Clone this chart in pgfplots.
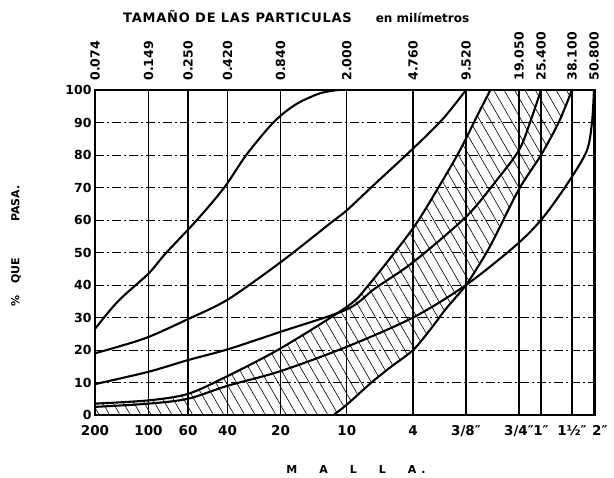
\documentclass[border=0pt]{standalone}
\usepackage{fontspec}
\setmainfont{DejaVu Sans}
\usepackage{pgfplots}
\pgfplotsset{compat=1.18}
\usepgfplotslibrary{fillbetween}
\usetikzlibrary{patterns.meta}
\begin{document}
\begin{tikzpicture}
\begin{axis}[name=ax,
  scale only axis, width=500pt, height=325pt,
  xmode=log, xmin=0.074, xmax=51.5, ymin=0, ymax=100,
  xtick={0.074,0.149,0.25,0.42,0.84,2,4.76,9.52,19.05,25.4,38.1,50.8},
  minor xtick={}, major tick length=0pt,
  xticklabels={200,100,60,40,20,10,4,3/8″,3/4″\hspace{3pt},1″,1½″,\hspace{12pt}2″},
  xticklabel style={font=\bfseries\fontsize{13.5}{14}\selectfont, yshift=-7pt},
  ytick={0,10,...,100},
  yticklabel style={font=\bfseries\fontsize{12.5}{13}\selectfont},
  /pgf/number format/assume math mode=true,
  xmajorgrids, ymajorgrids,
  x grid style={black, line width=1.3pt},
  y grid style={black, line width=0.7pt, dash pattern=on 9pt off 3pt on 2pt off 3pt},
  axis line style={line width=1.8pt},
  clip mode=individual,
]
% hatched band
\addplot[draw=none, name path=zero, forget plot] coordinates {(0.074,0) (1.68,0)};
\addplot[draw=none, name path=top, forget plot] coordinates {(13.1,100) (38.1,100)};
% band upper limit D
\addplot[black, line width=2.1pt, smooth, name path=D] coordinates {
 (0.074,3.5) (0.149,4.5) (0.25,6.5) (0.42,12) (0.84,20.5) (2.0,33.3) (2.66,40)
 (4.76,57.5) (6.8,71) (8.8,81.5) (11,92) (13.1,100)};
% band lower limit L+F
\addplot[black, line width=2.1pt, smooth, name path=LF] coordinates {
 (1.68,0) (2.0,3.2) (2.72,9.7) (3.5,14.5) (4.76,20) (6.0,26.5) (7.4,33) (9.52,40)
 (12.3,49.5) (14.1,55.5) (19.05,69.5) (25.4,80) (32,90) (38.1,100)};
\addplot[pattern={Lines[angle=-60,distance=9pt,line width=0.6pt]}, draw=none] fill between[of=D and zero];
\addplot[pattern={Lines[angle=-60,distance=9pt,line width=0.6pt]}, draw=none] fill between[of=top and LF];
% curve A
\addplot[black, line width=2.1pt, smooth] coordinates {
 (0.074,26.5) (0.1,35) (0.149,43.5) (0.185,49.5) (0.281,60) (0.402,70) (0.536,80)
 (0.764,90) (1.02,95.5) (1.41,99) (1.8,100)};
% curve B
\addplot[black, line width=2.1pt, smooth] coordinates {
 (0.074,19) (0.1,21) (0.149,24) (0.25,29.5) (0.42,35.5) (0.84,47) (1.61,59)
 (2.0,63) (2.85,70.8) (4.76,82) (7.0,91) (9.52,100)};
% curve C/E
\addplot[black, line width=2.1pt, smooth] coordinates {
 (0.074,9.5) (0.149,13.3) (0.25,16.9) (0.42,20.2) (0.84,25.6) (2.0,32.5) (2.9,39)
 (4.76,47) (9.52,61) (14.1,72) (19.05,81.5) (22,90) (25.4,100)};
% curve H/G
\addplot[black, line width=2.1pt, smooth] coordinates {
 (0.074,2.5) (0.149,3.5) (0.25,5) (0.42,9) (0.84,13.5) (2.0,21) (4.76,30) (9.52,40)
 (18.1,52) (25.4,60) (35,70.3) (46,81) (49.5,90) (50.8,100)};
% texts
\node[font=\bfseries\fontsize{13}{14}\selectfont\addfontfeature{LetterSpace=6}, anchor=base] at (axis description cs:0.285,1.209) {TAMAÑO DE LAS PARTICULAS};
\node[font=\bfseries\fontsize{12}{13}\selectfont, anchor=base] at (axis description cs:0.655,1.209) {en milímetros};
\node[font=\bfseries\fontsize{11}{12}\selectfont, rotate=90] at (axis description cs:-0.158,0.52) {\%\hspace{12pt}QUE\hspace{36pt}PASA.};
\node[font=\bfseries\fontsize{11}{12}\selectfont] at (axis description cs:0.522,-0.169) {M\hspace{22pt}A\hspace{22pt}L\hspace{22pt}L\hspace{22pt}A\hspace{5pt}.};
\end{axis}
\begin{axis}[at={(ax.south west)}, anchor=south west,
  scale only axis, width=500pt, height=325pt,
  xmode=log, xmin=0.074, xmax=51.5, ymin=0, ymax=100,
  xtick={0.074,0.149,0.25,0.42,0.84,2,4.76,9.52,19.05,25.4,38.1,50.8},
  minor xtick={}, major tick length=0pt,
  axis x line*=top, axis y line=none, x axis line style={draw=none},
  xticklabels={0.074,0.149,0.250,0.420,0.840,2.000,4.760,9.520,19.050,25.400,38.100,50.800},
  xticklabel style={font=\bfseries\fontsize{12.5}{13}\selectfont, rotate=90, anchor=west},
  xticklabel shift=6pt,
]
\addplot[draw=none] coordinates {(1,50)};
\end{axis}
\pgfresetboundingbox
\path ([xshift=-95pt,yshift=-62pt]ax.south west) rectangle ([xshift=19pt,yshift=90pt]ax.north east);
\end{tikzpicture}
\end{document}
